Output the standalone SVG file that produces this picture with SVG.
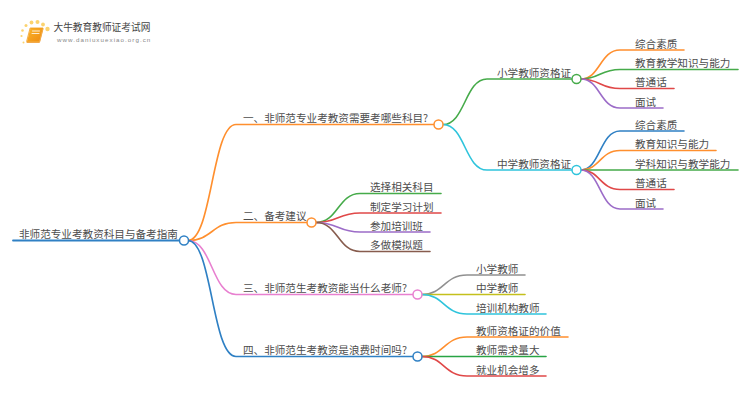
<svg xmlns="http://www.w3.org/2000/svg" width="750" height="410" viewBox="0 0 750 410">
<defs>
<linearGradient id="bk" x1="0" y1="0" x2="1" y2="1"><stop offset="0" stop-color="#fbb62c"/><stop offset="1" stop-color="#ee8a10"/></linearGradient>
<linearGradient id="ul" x1="0" y1="0" x2="1" y2="0"><stop offset="0" stop-color="#ddd" stop-opacity="0"/><stop offset=".5" stop-color="#ccc"/><stop offset="1" stop-color="#ddd" stop-opacity="0"/></linearGradient>
</defs>
<style>
text{font-family:"Noto Sans CJK SC","Liberation Sans",sans-serif;font-size:10.6px;fill:#4d4d4d}
path{fill:none;stroke-width:1.6;stroke-linecap:round}
circle{fill:#fff;stroke-width:1.5}
.o{stroke:#ff8f2e}.g{stroke:#46ab4a}.t{stroke:#2fc4dc}.b{stroke:#2f80c4}.r{stroke:#e04848}.p{stroke:#9c6cc8}.br{stroke:#875c4e}.k{stroke:#e880d0}.y{stroke:#c4c01c}.h{stroke:#909090}.dg{stroke:#28a444}
.d{fill:#fbd36f;stroke:none}
</style>
<rect width="750" height="410" fill="#fff"/>
<g id="connectors">
<path class="b" d="M13 240.500H184" style="stroke-width:1.800"/>
<path class="o" d="M188 240.500C212 240.500 212 124.500 236 124.500H438"/>
<path class="o" d="M188 240.500C212 240.500 212 222.500 236 222.500H311"/>
<path class="k" d="M188 240.500C212 240.500 212 294.500 236 294.500H417"/>
<path class="b" d="M188 240.500C212 240.500 212 356.500 236 356.500H417"/>
<path class="g" d="M443 124.500C465 124.500 465 79 487 79H576"/>
<path class="t" d="M443 124.500C465 124.500 465 170 487 170H576"/>
<path class="o" d="M581 79C600 79 600 50 620 50H684"/>
<path class="g" d="M581 79C600 79 600 69.500 620 69.500H738"/>
<path class="r" d="M581 79C600 79 600 88.500 620 88.500H674"/>
<path class="p" d="M581 79C600 79 600 108 620 108H663"/>
<path class="b" d="M581 170C600 170 600 131 620 131H684"/>
<path class="o" d="M581 170C600 170 600 150.500 620 150.500H716"/>
<path class="g" d="M581 170H738"/>
<path class="r" d="M581 170C600 170 600 189.500 620 189.500H674"/>
<path class="p" d="M581 170C600 170 600 209 620 209H663"/>
<path class="g" d="M316 222.500C338 222.500 338 193.500 360 193.500H441"/>
<path class="r" d="M316 222.500C338 222.500 338 213 360 213H441"/>
<path class="p" d="M316 222.500C338 222.500 338 232 360 232H430"/>
<path class="br" d="M316 222.500C338 222.500 338 251.500 360 251.500H430"/>
<path class="h" d="M422 294.500C444 294.500 444 275 467 275H525"/>
<path class="y" d="M422 294.500H525"/>
<path class="t" d="M422 294.500C444 294.500 444 314 467 314H546"/>
<path class="o" d="M422 356.500C444 356.500 444 337 467 337H568"/>
<path class="dg" d="M422 356.500H546"/>
<path class="r" d="M422 356.500C444 356.500 444 376 467 376H546"/>
</g>
<g id="logo">
<circle class="d" cx="47.500" cy="29" r="2.200"/><circle class="d" cx="43" cy="24.500" r="1.900"/>
<circle class="d" cx="37.500" cy="22" r="2"/><circle class="d" cx="31.500" cy="22.500" r="1.900"/><circle class="d" cx="26" cy="25.500" r="1.500"/><circle class="d" cx="22.500" cy="30.500" r="1.300"/><circle class="d" cx="21.500" cy="36" r="1.100"/><circle class="d" cx="23.500" cy="42.500" r="1"/>
<path d="M30.500 28H43L39.500 41.500H27Z" style="fill:url(#bk);stroke:#f09a18;stroke-width:.8"/>
<path d="M32.500 31H39.500M32 33.500H39" style="stroke:#fff;stroke-width:.8"/>
<path d="M27 42.500H39.500L43 29" style="stroke:#f3a94a;stroke-width:1"/>
<path d="M58 33.500H130" style="stroke:url(#ul);stroke-width:1"/>
<text x="53.500" y="31" style="font-size:9.700px;fill:#444">大牛教育教师证考试网</text>
<text x="57" y="41.500" style="font-size:6.200px;fill:#888;letter-spacing:1.050px;font-family:'Liberation Sans',sans-serif">www.daniuxuexiao.org.cn</text>
</g>
<g id="root"><circle class="b" cx="184" cy="240.500" r="4.500"/><text x="19" y="238">非师范专业考教资科目与备考指南</text></g>
<g id="n1"><circle class="o" cx="438.500" cy="124.500" r="4.500"/><text x="243" y="122">一、非师范专业考教资需要考哪些科目?</text></g>
<g id="n2"><circle class="o" cx="311.500" cy="222.500" r="4.500"/><text x="243" y="220">二、备考建议</text></g>
<g id="n3"><circle class="k" cx="417.500" cy="294.500" r="4.500"/><text x="243" y="292">三、非师范生考教资能当什么老师?</text></g>
<g id="n4"><circle class="b" cx="417.500" cy="356.500" r="4.500"/><text x="243" y="354">四、非师范生考教资是浪费时间吗?</text></g>
<g id="n11"><circle class="g" cx="576.500" cy="79" r="4.500"/><text x="497" y="76.500">小学教师资格证</text></g>
<g id="n12"><circle class="t" cx="576.500" cy="170" r="4.500"/><text x="497" y="167.500">中学教师资格证</text></g>
<g id="l1"><text x="635" y="47.500">综合素质</text></g>
<g id="l2"><text x="635" y="67">教育教学知识与能力</text></g>
<g id="l3"><text x="635" y="86">普通话</text></g>
<g id="l4"><text x="635" y="105.500">面试</text></g>
<g id="l5"><text x="635" y="128.500">综合素质</text></g>
<g id="l6"><text x="635" y="148">教育知识与能力</text></g>
<g id="l7"><text x="635" y="167.500">学科知识与教学能力</text></g>
<g id="l8"><text x="635" y="187">普通话</text></g>
<g id="l9"><text x="635" y="206.500">面试</text></g>
<g id="l10"><text x="370" y="191">选择相关科目</text></g>
<g id="l11"><text x="370" y="210.500">制定学习计划</text></g>
<g id="l12"><text x="370" y="229.500">参加培训班</text></g>
<g id="l13"><text x="370" y="249">多做模拟题</text></g>
<g id="l14"><text x="476" y="272.500">小学教师</text></g>
<g id="l15"><text x="476" y="292">中学教师</text></g>
<g id="l16"><text x="476" y="311.500">培训机构教师</text></g>
<g id="l17"><text x="476" y="334.500">教师资格证的价值</text></g>
<g id="l18"><text x="476" y="354">教师需求量大</text></g>
<g id="l19"><text x="476" y="373.500">就业机会增多</text></g>
</svg>
